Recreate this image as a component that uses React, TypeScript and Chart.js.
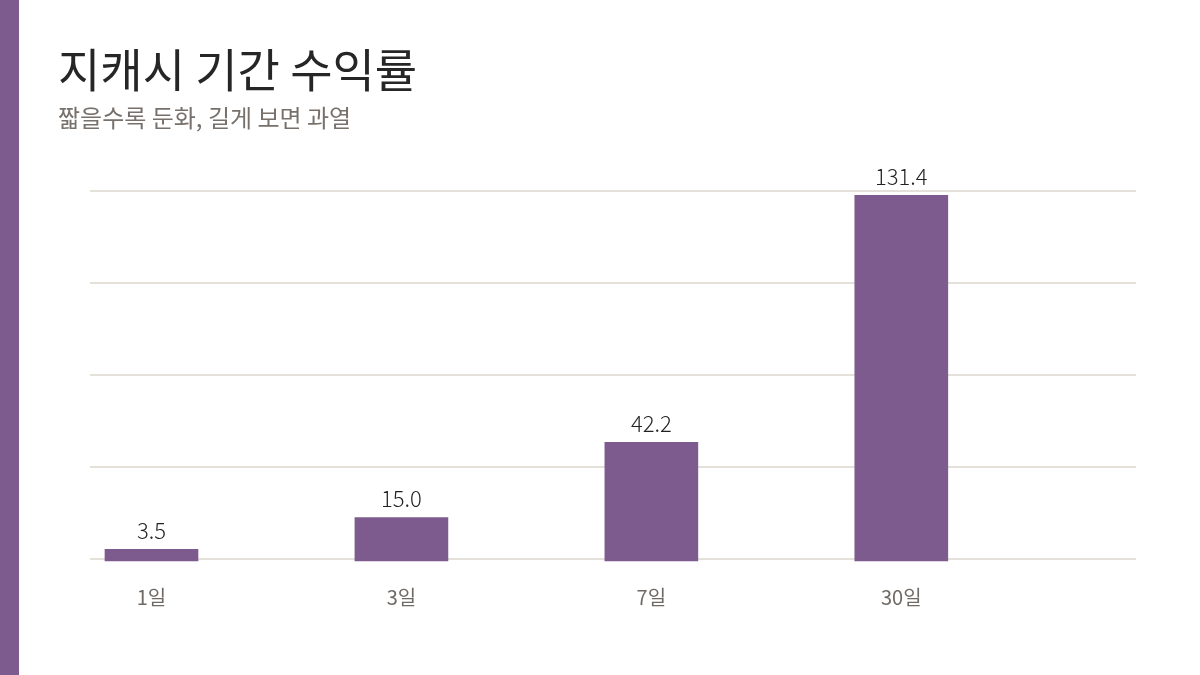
import { useEffect, useRef } from "react"
import { Chart, registerables, type ChartConfiguration, type Plugin } from "chart.js"

Chart.register(...registerables)

const periods = ["1일", "3일", "7일", "30일"]
const returns = [3.5, 15.0, 42.2, 131.4]
const yMax = 133

const PURPLE = "#7d5b8e"
const FONT = '"Noto Sans CJK KR", "Noto Sans", sans-serif'

// draws the value above each bar
const valueLabels: Plugin<"bar"> = {
  id: "valueLabels",
  afterDatasetsDraw(chart) {
    const { ctx } = chart
    const meta = chart.getDatasetMeta(0)
    ctx.save()
    ctx.font = `300 22px ${FONT}`
    ctx.fillStyle = "#222222"
    ctx.textAlign = "center"
    ctx.textBaseline = "alphabetic"
    meta.data.forEach((bar: any, i) => {
      ctx.fillText(returns[i].toFixed(1), bar.x, bar.y - 10)
    })
    ctx.restore()
  },
}

function ReturnsChart() {
  const canvasRef = useRef<HTMLCanvasElement>(null)
  const chartRef = useRef<Chart | null>(null)

  useEffect(() => {
    if (!canvasRef.current) return
    if (chartRef.current) chartRef.current.destroy()

    const config: ChartConfiguration<"bar"> = {
      type: "bar",
      data: {
        datasets: [
          {
            data: periods.map((_, i) => ({ x: i, y: returns[i] })) as any,
            backgroundColor: PURPLE,
            barThickness: 93,
            base: -0.7,
            clip: false as any,
          },
        ],
      },
      options: {
        animation: false,
        responsive: true,
        maintainAspectRatio: false,
        layout: { padding: { top: 191, left: 90, right: 64, bottom: 40 } },
        plugins: {
          legend: { display: false },
          tooltip: { enabled: false },
        },
        scales: {
          x: {
            type: "linear",
            min: -0.246,
            max: 3.939,
            offset: false,
            grid: { display: false, drawTicks: false },
            border: { display: false },
            afterBuildTicks: (scale: any) => {
              scale.ticks = periods.map((_, i) => ({ value: i }))
            },
            ticks: {
              callback: (v) => periods[v as number] ?? "",
              padding: 26,
              maxRotation: 0,
              autoSkip: false,
              color: "#6f6a65",
              font: { family: FONT, size: 20 },
            },
          },
          y: {
            min: 0,
            max: yMax,
            ticks: { display: false, count: 5 },
            grid: { color: "#e5e1da", lineWidth: 2, drawTicks: false },
            border: { display: false },
          },
        },
      },
      plugins: [valueLabels],
    }

    chartRef.current = new Chart(canvasRef.current, config)

    return () => {
      if (chartRef.current) {
        chartRef.current.destroy()
        chartRef.current = null
      }
    }
  }, [])

  return (
    <div style={{ position: "absolute", left: 0, top: 0, width: 1200, height: 675 }}>
      <canvas ref={canvasRef} />
    </div>
  )
}

export default function App() {
  return (
    <div
      style={{
        position: "fixed",
        left: 0,
        top: 0,
        width: 1200,
        height: 675,
        background: "#ffffff",
        overflow: "hidden",
        fontFamily: FONT,
      }}
    >
      <div style={{ position: "absolute", left: 0, top: 0, width: 19, height: 675, background: PURPLE }} />
      <ReturnsChart />
      <div
        style={{
          position: "absolute",
          left: 58,
          top: 44,
          fontSize: 46,
          lineHeight: 1,
          color: "#262626",
          whiteSpace: "nowrap",
        }}
      >
        지캐시 기간 수익률
      </div>
      <div
        style={{
          position: "absolute",
          left: 58,
          top: 105,
          fontSize: 24,
          lineHeight: 1,
          color: "#78716b",
          whiteSpace: "nowrap",
        }}
      >
        짧을수록 둔화, 길게 보면 과열
      </div>
    </div>
  )
}
